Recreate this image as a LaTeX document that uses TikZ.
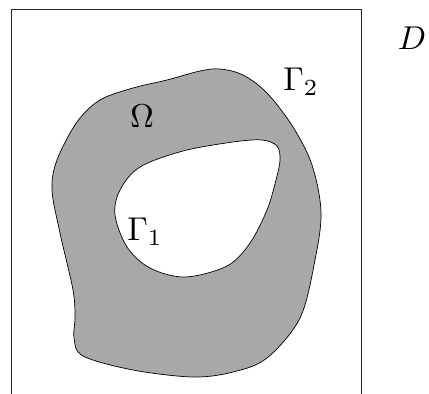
\documentclass[tikz,border=0pt]{standalone}
\begin{document}
\begin{tikzpicture}[x=1pt,y=-1pt,
  frame/.style={line width=0.9pt, black!85},
  region/.style={fill=black!34, draw=black, line width=0.7pt},
  hole/.style={fill=white, draw=black, line width=0.7pt},
  lbl/.style={scale=3.3, inner sep=0pt}]
\useasboundingbox (0,0) rectangle (429,394);
\begin{scope}
\clip (0,0) rectangle (429,394);
\draw[frame] (11.5,400) -- (11.5,9.5) -- (361,9.5) -- (361,400);
\end{scope}
\draw[region] plot[smooth cycle, tension=0.55] coordinates {
  (220,69) (243,75) (267,93) (293,127) (312,165) (321,212) (315,260)
  (300,318) (267,358) (233,372) (193,377) (133,370) (83,356) (74,338)
  (75,318) (73,290) (60,233) (52,190) (57,160) (77,122) (100,100)
  (133,88) (167,80) (200,71)};
\draw[hole] plot[smooth cycle, tension=0.55] coordinates {
  (262,140) (277,146) (280,160) (276,180) (267,210) (250,243) (227,266)
  (185,277) (150,268) (127,247) (115,215) (120,190) (140,167) (183,151)
  (233,142)};
\node[lbl] (omega) at (142,116) {$\Omega$};
\node[lbl] (g2) at (301,82) {$\Gamma_2$};
\node[lbl] (g1) at (145,232) {$\Gamma_1$};
\node[lbl] (d) at (412,38) {$D$};
\end{tikzpicture}
\end{document}
